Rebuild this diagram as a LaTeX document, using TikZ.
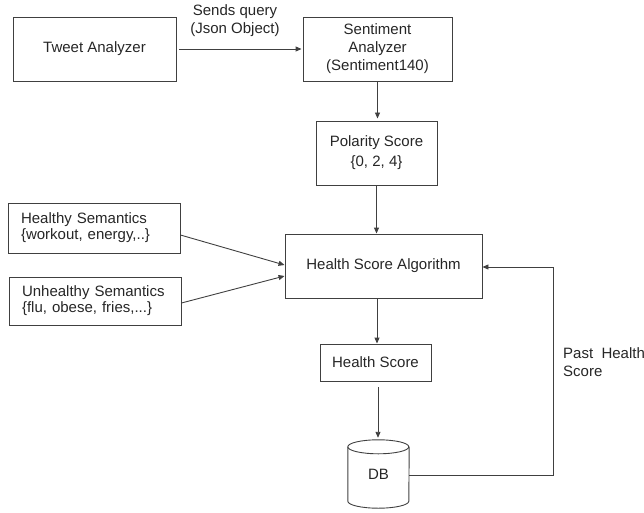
\documentclass[tikz,border=0pt]{standalone}
\usepackage{fontspec}
\setmainfont{Liberation Sans}
\usetikzlibrary{arrows.meta,calc}
\begin{document}
\begin{tikzpicture}[x=1pt,y=-1pt,
  every node/.style={font=\fontsize{15}{18}\selectfont, text=black!85},
  box/.style={draw=black!75, line width=0.9pt, inner sep=0pt, align=center},
  conn/.style={draw=black!75, line width=0.9pt, -{Triangle[length=6pt,width=5pt]}},
  plain/.style={draw=black!75, line width=0.9pt}]
\useasboundingbox (0,0) rectangle (644,513);
\node[box, minimum width=163pt, minimum height=64pt] (ta) at (94.5,49) {Tweet Analyzer};
\node[box, minimum width=149pt, minimum height=64pt] (sa) at (377.5,49) {Sentiment\\Analyzer\\(Sentiment140)};
\node[box, minimum width=121pt, minimum height=64pt, font=\fontsize{15}{20}\selectfont] (ps) at (376.5,153) {Polarity Score\\\{0, 2, 4\}};
\node[box, minimum width=172pt, minimum height=50pt, align=left, text width=146pt, font=\fontsize{15}{18}\selectfont] (hs) at (94,228) {\raisebox{-2pt}{Healthy Semantics}\\\{workout, energy,..\}};
\node[box, minimum width=172pt, minimum height=48pt, align=left, text width=146pt, font=\fontsize{15}{18}\selectfont] (us) at (95,301) {\raisebox{-2pt}{Unhealthy Semantics}\\\{flu, obese, fries,...\}};
\node[box, minimum width=197pt, minimum height=64pt] (hsa) at (383.5,266) {Health Score Algorithm};
\node[box, minimum width=111pt, minimum height=37pt] (hsc) at (375.5,362.5) {Health Score};
\node[minimum width=61pt, minimum height=68pt, inner sep=0pt] (db) at (378.5,474) {DB};
% cylinder
\draw[plain] (db.north west) ++(0,7) coordinate (dbtl)
  (dbtl) arc[start angle=180, end angle=360, x radius=30.5pt, y radius=-7pt]
  arc[start angle=0, end angle=180, x radius=30.5pt, y radius=-7pt] -- cycle;
\draw[plain] (dbtl) -- ($(db.south west)+(0,-7)$) arc[start angle=180, end angle=360, x radius=30.5pt, y radius=7pt] -- ($(db.north east)+(0,7)$);
\node[anchor=south, align=center] (lbl) at (235,40) {Sends query\\(Json Object)};
\node[anchor=west, align=left, inner sep=0pt] (past) at (563,362) {Past~~Health\\Score};
\coordinate (c1) at (553,475);
\coordinate (c2) at (553,267);
\draw[conn, shorten <=3pt, shorten >=1pt] (ta.east) -- (sa.west);
\draw[conn, shorten >=2pt] (sa.south) -- (sa.south |- ps.north);
\draw[conn] (ps.south) -- (ps.south |- hsa.north);
\draw[conn] ($(hs.east)+(0,7)$) -- ($(hsa.west)+(0,-1)$);
\draw[conn] ($(us.east)+(0,2)$) -- ($(hsa.west)+(0,10)$);
\draw[conn] (hsa.south -| 377,0) -- (hsc.north -| 377,0);
\draw[conn, shorten <=6pt, shorten >=2pt] (hsc.south -| 378,0) -- (db.north -| 378,0);
\draw[plain] (db.east |- c1) -- (c1) -- (c2);
\draw[conn] (c2) -- (hsa.east |- c2);
\end{tikzpicture}
\end{document}
